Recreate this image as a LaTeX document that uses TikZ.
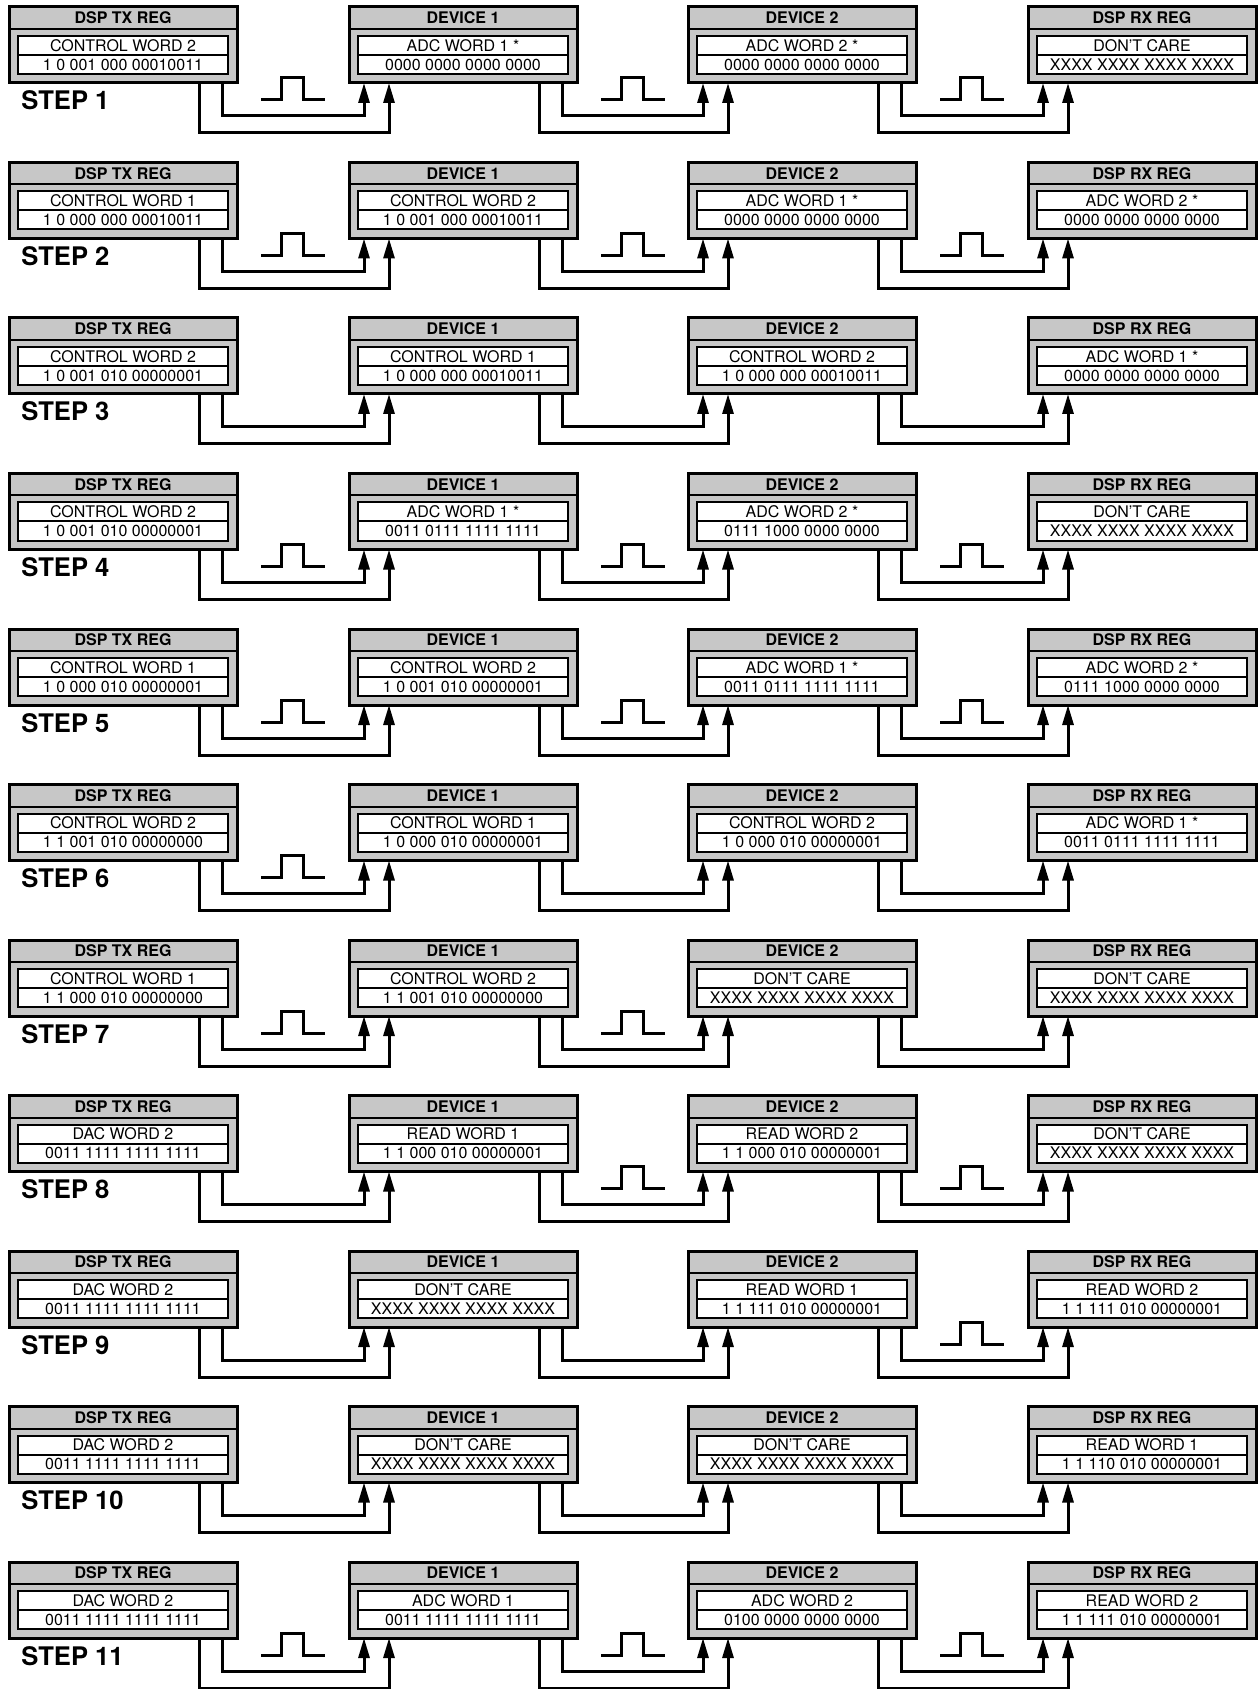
\documentclass[tikz,border=0pt]{standalone}
\usepackage{fontspec}
\setmainfont{TeX Gyre Heros}
\usetikzlibrary{arrows.meta}

% one register box: name, x, y (top left), header, word, bits
\newcommand{\regbox}[6]{%
  \node[regframe] (#1) at (#2,#3) {};
  \draw[rule] ([shift={(0,22)}]#1.north west) -- ([shift={(0,22)}]#1.north east);
  \node[headtxt] (#1t) at ([shift={(0,11)}]#1.north) {#4};
  \node[cell, anchor=north west] (#1w) at ([shift={(9,29)}]#1.north west) {#5};
  \node[cell, anchor=north] (#1b) at (#1w.south) {#6};
}

\begin{document}
\begin{tikzpicture}[x=0.5pt, y=-0.5pt,
  regframe/.style={draw, fill=black!22, line width=1.5pt, minimum width=114pt,
    minimum height=38pt, inner sep=0pt, outer sep=0pt, anchor=north west},
  rule/.style={line width=1pt},
  headtxt/.style={font=\bfseries\fontsize{8}{9}\selectfont, inner sep=0pt},
  cell/.style={draw, fill=white, line width=1pt, minimum width=105pt,
    minimum height=9.5pt, inner sep=0pt, outer sep=0pt, font=\fontsize{8}{9}\selectfont},
  wire/.style={line width=1.5pt, -{Triangle[length=10pt,width=5.5pt]}},
  pulse/.style={line width=1.5pt},
  steplabel/.style={font=\bfseries\fontsize{12.8}{14}\selectfont, anchor=base west, inner sep=0pt}]

\useasboundingbox (0,0) rectangle (1259,1689);

% ---- STEP 1 ----
\regbox{tx1}{9}{7}{DSP TX REG}{CONTROL WORD 2}{1 0 001 000 00010011}
\regbox{da1}{349}{7}{DEVICE 1}{ADC WORD 1 *}{0000 0000 0000 0000}
\regbox{db1}{688}{7}{DEVICE 2}{ADC WORD 2 *}{0000 0000 0000 0000}
\regbox{rx1}{1028}{7}{DSP RX REG}{DON'T CARE}{XXXX XXXX XXXX XXXX}

% ---- STEP 2 ----
\regbox{tx2}{9}{162.5}{DSP TX REG}{CONTROL WORD 1}{1 0 000 000 00010011}
\regbox{da2}{349}{162.5}{DEVICE 1}{CONTROL WORD 2}{1 0 001 000 00010011}
\regbox{db2}{688}{162.5}{DEVICE 2}{ADC WORD 1 *}{0000 0000 0000 0000}
\regbox{rx2}{1028}{162.5}{DSP RX REG}{ADC WORD 2 *}{0000 0000 0000 0000}

% ---- STEP 3 ----
\regbox{tx3}{9}{318}{DSP TX REG}{CONTROL WORD 2}{1 0 001 010 00000001}
\regbox{da3}{349}{318}{DEVICE 1}{CONTROL WORD 1}{1 0 000 000 00010011}
\regbox{db3}{688}{318}{DEVICE 2}{CONTROL WORD 2}{1 0 000 000 00010011}
\regbox{rx3}{1028}{318}{DSP RX REG}{ADC WORD 1 *}{0000 0000 0000 0000}

% ---- STEP 4 ----
\regbox{tx4}{9}{473.5}{DSP TX REG}{CONTROL WORD 2}{1 0 001 010 00000001}
\regbox{da4}{349}{473.5}{DEVICE 1}{ADC WORD 1 *}{0011 0111 1111 1111}
\regbox{db4}{688}{473.5}{DEVICE 2}{ADC WORD 2 *}{0111 1000 0000 0000}
\regbox{rx4}{1028}{473.5}{DSP RX REG}{DON'T CARE}{XXXX XXXX XXXX XXXX}

% ---- STEP 5 ----
\regbox{tx5}{9}{629}{DSP TX REG}{CONTROL WORD 1}{1 0 000 010 00000001}
\regbox{da5}{349}{629}{DEVICE 1}{CONTROL WORD 2}{1 0 001 010 00000001}
\regbox{db5}{688}{629}{DEVICE 2}{ADC WORD 1 *}{0011 0111 1111 1111}
\regbox{rx5}{1028}{629}{DSP RX REG}{ADC WORD 2 *}{0111 1000 0000 0000}

% ---- STEP 6 ----
\regbox{tx6}{9}{784.5}{DSP TX REG}{CONTROL WORD 2}{1 1 001 010 00000000}
\regbox{da6}{349}{784.5}{DEVICE 1}{CONTROL WORD 1}{1 0 000 010 00000001}
\regbox{db6}{688}{784.5}{DEVICE 2}{CONTROL WORD 2}{1 0 000 010 00000001}
\regbox{rx6}{1028}{784.5}{DSP RX REG}{ADC WORD 1 *}{0011 0111 1111 1111}

% ---- STEP 7 ----
\regbox{tx7}{9}{940}{DSP TX REG}{CONTROL WORD 1}{1 1 000 010 00000000}
\regbox{da7}{349}{940}{DEVICE 1}{CONTROL WORD 2}{1 1 001 010 00000000}
\regbox{db7}{688}{940}{DEVICE 2}{DON'T CARE}{XXXX XXXX XXXX XXXX}
\regbox{rx7}{1028}{940}{DSP RX REG}{DON'T CARE}{XXXX XXXX XXXX XXXX}

% ---- STEP 8 ----
\regbox{tx8}{9}{1095.5}{DSP TX REG}{DAC WORD 2}{0011 1111 1111 1111}
\regbox{da8}{349}{1095.5}{DEVICE 1}{READ WORD 1}{1 1 000 010 00000001}
\regbox{db8}{688}{1095.5}{DEVICE 2}{READ WORD 2}{1 1 000 010 00000001}
\regbox{rx8}{1028}{1095.5}{DSP RX REG}{DON'T CARE}{XXXX XXXX XXXX XXXX}

% ---- STEP 9 ----
\regbox{tx9}{9}{1251}{DSP TX REG}{DAC WORD 2}{0011 1111 1111 1111}
\regbox{da9}{349}{1251}{DEVICE 1}{DON'T CARE}{XXXX XXXX XXXX XXXX}
\regbox{db9}{688}{1251}{DEVICE 2}{READ WORD 1}{1 1 111 010 00000001}
\regbox{rx9}{1028}{1251}{DSP RX REG}{READ WORD 2}{1 1 111 010 00000001}

% ---- STEP 10 ----
\regbox{tx10}{9}{1406.5}{DSP TX REG}{DAC WORD 2}{0011 1111 1111 1111}
\regbox{da10}{349}{1406.5}{DEVICE 1}{DON'T CARE}{XXXX XXXX XXXX XXXX}
\regbox{db10}{688}{1406.5}{DEVICE 2}{DON'T CARE}{XXXX XXXX XXXX XXXX}
\regbox{rx10}{1028}{1406.5}{DSP RX REG}{READ WORD 1}{1 1 110 010 00000001}

% ---- STEP 11 ----
\regbox{tx11}{9}{1562}{DSP TX REG}{DAC WORD 2}{0011 1111 1111 1111}
\regbox{da11}{349}{1562}{DEVICE 1}{ADC WORD 1}{0011 1111 1111 1111}
\regbox{db11}{688}{1562}{DEVICE 2}{ADC WORD 2}{0100 0000 0000 0000}
\regbox{rx11}{1028}{1562}{DSP RX REG}{READ WORD 2}{1 1 111 010 00000001}

% ---- Serial links, clock pulses and step labels ----
\foreach \s/\pa/\pb/\pc in {1/1/1/1, 2/1/1/1, 3/0/0/0, 4/1/1/1, 5/1/1/1, 6/1/0/0,
                            7/1/1/0, 8/0/1/1, 9/0/0/1, 10/0/0/0, 11/1/1/1} {
  \foreach \a/\b/\p in {tx/da/\pa, da/db/\pb, db/rx/\pc} {
    \draw[wire] ([shift={(213,0)}]\a\s.south west) -- ++(0,33) -| ([shift={(15,0)}]\b\s.south west);
    \draw[wire] ([shift={(190,0)}]\a\s.south west) -- ++(0,50) -| ([shift={(40,0)}]\b\s.south west);
    \ifnum\p=1
      \draw[pulse] ([shift={(252,93)}]\a\s.north west) -- ++(20,0) -- ++(0,-22)
        -- ++(22,0) -- ++(0,22) -- ++(22,0);
    \fi
  }
  \node[steplabel] (step\s) at ([shift={(12,27)}]tx\s.south west) {STEP \s};
}

\end{tikzpicture}
\end{document}
